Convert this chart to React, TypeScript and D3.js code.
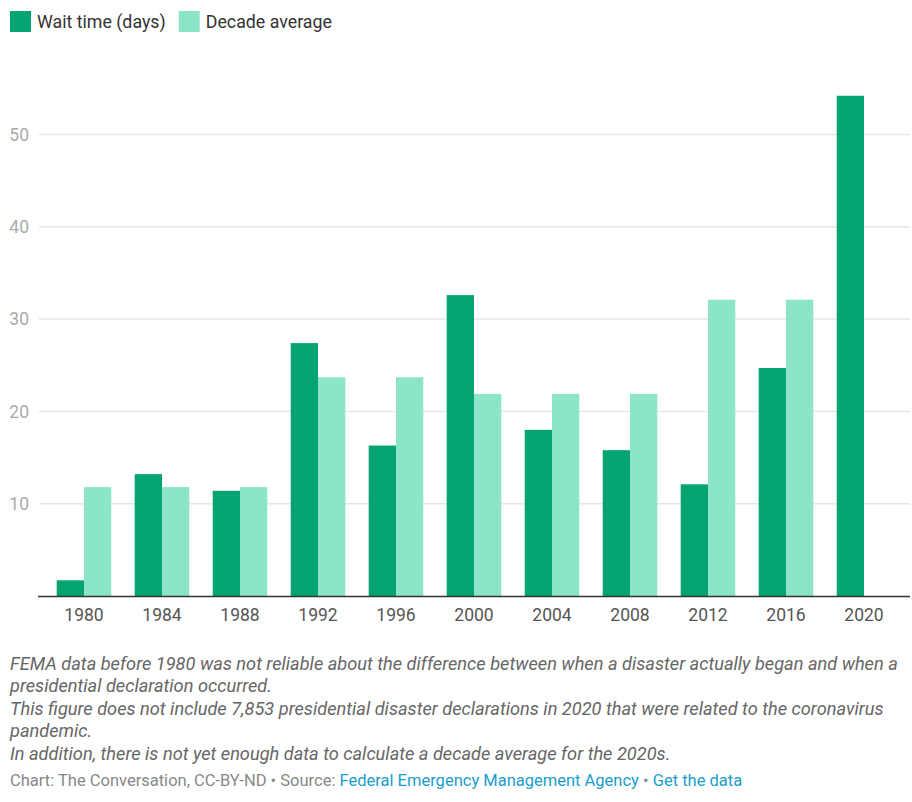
import * as d3 from "d3";
import React, { useEffect, useRef } from "react";

const years = ["1980", "1984", "1988", "1992", "1996", "2000", "2004", "2008", "2012", "2016", "2020"];
const waitTime = [1.7, 13.2, 11.4, 27.4, 16.3, 32.6, 18.0, 15.8, 12.1, 24.7, 54.2];
const decadeAvg: (number | null)[] = [11.8, 11.8, 11.8, 23.7, 23.7, 21.9, 21.9, 21.9, 32.1, 32.1, null];
const yTicks = [10, 20, 30, 40, 50];
const seriesNames = ["Wait time (days)", "Decade average"];
const seriesColors = ["#04a472", "#8de5c9"];

const notes = [
  "FEMA data before 1980 was not reliable about the difference between when a disaster actually began and when a",
  "presidential declaration occurred.",
  "This figure does not include 7,853 presidential disaster declarations in 2020 that were related to the coronavirus",
  "pandemic.",
  "In addition, there is not yet enough data to calculate a decade average for the 2020s.",
];

const App: React.FC = () => {
  const ref = useRef<SVGSVGElement | null>(null);

  useEffect(() => {
    document.body.style.margin = "0";
    const width = 912;
    const height = 802;
    const font = "Roboto, 'Noto Sans', sans-serif";

    const svg = d3.select(ref.current).attr("width", width).attr("height", height).html("");
    svg.style("font-family", font).style("display", "block");

    // legend
    const legend = svg.append("g");
    let lx = 10;
    seriesNames.forEach((name, i) => {
      legend.append("rect").attr("x", lx).attr("y", 11).attr("width", 21).attr("height", 21).attr("fill", seriesColors[i]);
      const t = legend
        .append("text")
        .attr("x", lx + 27)
        .attr("y", 27.5)
        .attr("fill", "#333")
        .style("font-size", "17.8px")
        .text(name);
      const w = (t.node() as SVGTextElement).getComputedTextLength();
      lx += 27 + w + 13;
    });

    const y = d3.scaleLinear().domain([0, 50]).range([596, 134.5]);
    const x0 = d3.scaleBand().domain(years).range([45, 903]).paddingInner(0.3).paddingOuter(0.15);
    const x1 = d3.scaleBand().domain(["0", "1"]).range([0, x0.bandwidth()]);

    // gridlines
    svg
      .append("g")
      .selectAll("line")
      .data(yTicks)
      .join("line")
      .attr("x1", 39)
      .attr("x2", 910)
      .attr("y1", (d) => y(d))
      .attr("y2", (d) => y(d))
      .attr("stroke", "#e6e6e6")
      .attr("stroke-width", 1.5);

    svg
      .append("g")
      .selectAll("text")
      .data(yTicks)
      .join("text")
      .attr("x", 29)
      .attr("y", (d) => y(d))
      .attr("dy", "0.35em")
      .attr("text-anchor", "end")
      .attr("fill", "#aaa")
      .style("font-size", "17.5px")
      .text((d) => d);

    // bars
    const groups = svg
      .append("g")
      .selectAll("g")
      .data(years)
      .join("g")
      .attr("transform", (d) => `translate(${x0(d)},0)`);

    groups
      .selectAll("rect")
      .data((_d, i) => [waitTime[i], decadeAvg[i]].map((v, j) => ({ v, j })).filter((e) => e.v != null))
      .join("rect")
      .attr("x", (e) => x1(String(e.j)) as number)
      .attr("width", x1.bandwidth())
      .attr("y", (e) => y(e.v as number))
      .attr("height", (e) => y(0) - y(e.v as number))
      .attr("fill", (e) => seriesColors[e.j]);

    // baseline
    svg
      .append("line")
      .attr("x1", 38)
      .attr("x2", 910)
      .attr("y1", 596.5)
      .attr("y2", 596.5)
      .attr("stroke", "#333")
      .attr("stroke-width", 1.5);

    svg
      .append("g")
      .selectAll("text")
      .data(years)
      .join("text")
      .attr("x", (d) => (x0(d) as number) + x0.bandwidth() / 2)
      .attr("y", 621)
      .attr("text-anchor", "middle")
      .attr("fill", "#555")
      .style("font-size", "17.5px")
      .text((d) => d);

    // notes
    svg
      .append("g")
      .selectAll("text")
      .data(notes)
      .join("text")
      .attr("x", 10)
      .attr("y", (_d, i) => 669.5 + i * 22.5)
      .attr("fill", "#666")
      .style("font-size", "18.2px")
      .style("font-style", "italic")
      .text((d) => d);

    const foot = svg
      .append("text")
      .attr("x", 10)
      .attr("y", 785.5)
      .style("font-size", "16.5px")
      .attr("fill", "#888");
    foot.append("tspan").text("Chart: The Conversation, CC-BY-ND • Source: ");
    foot.append("tspan").attr("fill", "#1a9ecb").text("Federal Emergency Management Agency");
    foot.append("tspan").text(" • ");
    foot.append("tspan").attr("fill", "#1a9ecb").text("Get the data");
  }, []);

  return <svg ref={ref}></svg>;
};

export default App;
